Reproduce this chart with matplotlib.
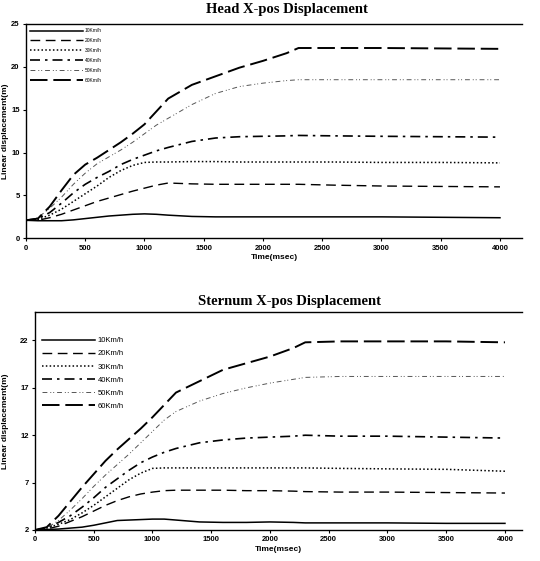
import matplotlib
matplotlib.use('Agg')
import matplotlib.pyplot as plt

# time grid (msec)
time_ms = [0, 100, 200, 300, 400, 500, 600, 700, 800, 900, 1000, 1100, 1200,
           1400, 1600, 1800, 2000, 2200, 2300, 2600, 3000, 3500, 4000]

labels = ['10Km/h', '20Km/h', '30Km/h', '40Km/h', '50Km/h', '60Km/h']

# Head X-pos displacement (m)
head_10 = [2.1, 2.05, 2.05, 2.05, 2.15, 2.3, 2.45, 2.6, 2.7, 2.8, 2.85, 2.8, 2.7,
           2.55, 2.5, 2.5, 2.5, 2.5, 2.5, 2.5, 2.5, 2.45, 2.4]
head_20 = [2.1, 2.1, 2.4, 2.8, 3.3, 3.8, 4.3, 4.7, 5.1, 5.5, 5.85, 6.2, 6.45,
           6.35, 6.3, 6.3, 6.3, 6.3, 6.3, 6.2, 6.1, 6.05, 6.0]
head_30 = [2.1, 2.2, 2.7, 3.4, 4.3, 5.2, 6.1, 7.1, 7.9, 8.5, 8.85, 8.9, 8.9,
           8.95, 8.95, 8.9, 8.9, 8.9, 8.9, 8.9, 8.85, 8.85, 8.8]
head_40 = [2.1, 2.3, 3.0, 4.1, 5.3, 6.3, 7.1, 7.8, 8.6, 9.2, 9.7, 10.2, 10.6,
           11.3, 11.7, 11.85, 11.9, 11.95, 12.0, 11.95, 11.9, 11.85, 11.8]
head_50 = [2.1, 2.4, 3.5, 4.8, 6.3, 7.6, 8.7, 9.5, 10.3, 11.2, 12.2, 13.2, 14.0,
           15.6, 16.9, 17.7, 18.1, 18.4, 18.5, 18.5, 18.5, 18.5, 18.5]
head_60 = [2.1, 2.3, 3.7, 5.6, 7.4, 8.6, 9.4, 10.3, 11.2, 12.2, 13.3, 14.8, 16.3,
           17.9, 18.9, 19.9, 20.7, 21.6, 22.2, 22.2, 22.2, 22.15, 22.1]

# Sternum X-pos displacement (m)
stern_10 = [2.0, 2.05, 2.1, 2.2, 2.3, 2.5, 2.75, 3.0, 3.05, 3.1, 3.15, 3.15, 3.05,
            2.85, 2.8, 2.8, 2.85, 2.8, 2.75, 2.75, 2.75, 2.7, 2.7]
stern_20 = [2.0, 2.1, 2.4, 2.9, 3.4, 4.0, 4.6, 5.1, 5.5, 5.8, 6.0, 6.15, 6.2,
            6.2, 6.2, 6.15, 6.15, 6.1, 6.05, 6.0, 6.0, 5.95, 5.9]
stern_30 = [2.0, 2.2, 2.6, 3.1, 3.8, 4.6, 5.5, 6.4, 7.3, 8.0, 8.5, 8.55, 8.55,
            8.55, 8.55, 8.55, 8.55, 8.55, 8.55, 8.5, 8.45, 8.4, 8.2]
stern_40 = [2.0, 2.2, 2.8, 3.5, 4.4, 5.4, 6.5, 7.4, 8.3, 9.1, 9.7, 10.2, 10.6,
            11.2, 11.5, 11.7, 11.8, 11.9, 12.0, 11.9, 11.9, 11.8, 11.7]
stern_50 = [2.0, 2.2, 3.0, 4.1, 5.3, 6.6, 7.8, 8.9, 10.0, 11.2, 12.4, 13.6, 14.5,
            15.6, 16.4, 17.0, 17.5, 17.9, 18.1, 18.2, 18.2, 18.2, 18.2]
stern_60 = [2.0, 2.3, 3.5, 5.0, 6.5, 7.9, 9.3, 10.5, 11.6, 12.7, 13.9, 15.2, 16.5,
            17.7, 18.9, 19.6, 20.3, 21.2, 21.8, 21.9, 21.9, 21.9, 21.8]

head = [head_10, head_20, head_30, head_40, head_50, head_60]
sternum = [stern_10, stern_20, stern_30, stern_40, stern_50, stern_60]

# line looks for each speed
styles = [
    dict(color='black', lw=1.1, ls='-'),
    dict(color='black', lw=1.0, dashes=(7, 4)),
    dict(color='black', lw=1.1, dashes=(1, 1.5)),
    dict(color='black', lw=1.2, dashes=(6, 3, 1.5, 3)),
    dict(color='#555555', lw=0.7, dashes=(5, 3, 1, 2, 1, 3)),
    dict(color='black', lw=1.4, dashes=(9, 3)),
]

title_font = dict(family='Liberation Serif', weight='bold', size=10.5)


def setup(ax, ylim, yticks, xmax, ylab_x):
    ax.set_xlim(0, xmax)
    ax.set_ylim(*ylim)
    ax.set_xticks(range(0, 4001, 500))
    ax.set_yticks(yticks)
    for lab in ax.get_xticklabels() + ax.get_yticklabels():
        lab.set_fontfamily('Liberation Sans')
        lab.set_fontweight('bold')
        lab.set_fontsize(5.5)
    ax.spines['right'].set_visible(False)
    for s in ['top', 'left', 'bottom']:
        ax.spines[s].set_linewidth(1.0)
    ax.tick_params(length=2.5, width=0.8, pad=2)
    ax.set_xlabel('Time(msec)', fontfamily='Liberation Sans', fontweight='bold',
                  fontsize=6, labelpad=2)
    ax.set_ylabel('Linear displacement(m)', fontfamily='Liberation Sans',
                  fontweight='bold', fontsize=6)
    ax.yaxis.set_label_coords(ylab_x, 0.5)


fig = plt.figure(figsize=(5.4, 5.61), dpi=100)

# Head chart
ax1 = fig.add_axes([26 / 540, 1 - 238.3 / 561, 496 / 540, 214.3 / 561])
for vals, st, lab in zip(head, styles, labels):
    ax1.plot(time_ms, vals, label=lab, **st)
setup(ax1, (0, 25), range(0, 26, 5), 4186, (9 - 26) / 496)
ax1.legend(loc='upper left', bbox_to_anchor=(0.008, 0.98), frameon=False,
           prop=dict(family='Liberation Sans', size=3.5), handlelength=11,
           labelspacing=1.0, borderpad=0, borderaxespad=0, handletextpad=0.3)
fig.text(287 / 540, 1 - 9 / 561, 'Head X-pos Displacement', ha='center',
         va='center', **title_font)

# Sternum chart
ax2 = fig.add_axes([35 / 540, 1 - 530 / 561, 487 / 540, 218 / 561])
for vals, st, lab in zip(sternum, styles, labels):
    ax2.plot(time_ms, vals, label=lab, **st)
setup(ax2, (2, 25), range(2, 23, 5), 4145, (9 - 35) / 487)
ax2.legend(loc='upper left', bbox_to_anchor=(0.014, 0.885), frameon=False,
           prop=dict(family='Liberation Sans', size=5.5), handlelength=7,
           labelspacing=0.75, borderpad=0, borderaxespad=0, handletextpad=0.3)
fig.text(289 / 540, 1 - 302 / 561, 'Sternum X-pos Displacement', ha='center',
         va='center', **title_font)

fig.savefig('out.png', dpi=100)
